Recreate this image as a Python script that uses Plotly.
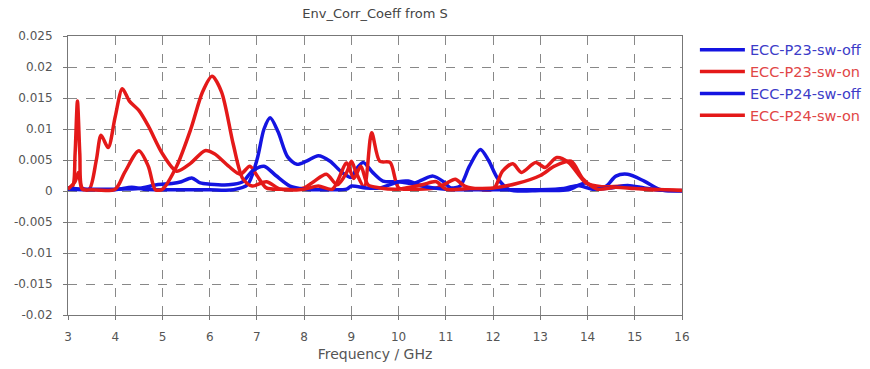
import plotly.graph_objects as go

# ---- data ----
f_p23_off = [3.0, 3.5, 4.0, 4.35, 4.6, 5.0, 5.5, 6.0, 6.5, 6.8, 7.0, 7.15, 7.28, 7.45, 7.65, 7.85, 8.05, 8.3, 8.55, 8.8,
             9.0, 9.1, 9.25, 9.45, 9.67, 10.0, 10.3, 10.5, 10.73, 10.95, 11.1, 11.3, 11.5, 11.73, 11.9, 12.1, 12.35,
             13.0, 13.6, 13.95, 14.2, 14.4, 14.6, 14.85, 15.2, 15.55, 16.0]
v_p23_off = [0.0003, 0.0002, 0.0002, 0.0006, 0.0003, 0.0002, 0.0002, 0.0002, 0.0002, 0.001, 0.005, 0.010, 0.0118,
             0.0095, 0.0055, 0.0043, 0.0048, 0.0057, 0.0048, 0.003, 0.0022, 0.0035, 0.0046, 0.003, 0.0016, 0.0015,
             0.0012, 0.0018, 0.0024, 0.0015, 0.0005, 0.0008, 0.004, 0.0067, 0.005, 0.002, 0.0002, 0.0001, 0.0002,
             0.0013, 0.0003, 0.0008, 0.0024, 0.0027, 0.0016, 0.0002, 0.0001]

f_p23_on = [3.0, 3.1, 3.15, 3.2, 3.25, 3.3, 3.45, 3.6, 3.7, 3.85, 4.0, 4.15, 4.3, 4.5, 4.7, 5.0, 5.3, 5.6, 5.9, 6.1,
            6.4, 6.65, 6.85, 7.0, 7.2, 7.5, 8.0, 8.2, 8.47, 8.7, 8.9, 9.0, 9.1, 9.27, 9.43, 9.6, 9.82, 10.0, 10.3,
            10.8, 11.0, 11.2, 11.4, 12.0, 12.2, 12.42, 12.6, 12.9, 13.1, 13.35, 13.6, 13.97, 14.3, 14.8, 15.2, 16.0]
v_p23_on = [0.0005, 0.0008, 0.006, 0.0145, 0.006, 0.0005, 0.0003, 0.005, 0.009, 0.007, 0.012, 0.0165, 0.0145,
            0.013, 0.0105, 0.006, 0.0032, 0.0045, 0.0065, 0.006, 0.004, 0.0027, 0.004, 0.0025, 0.0005, 0.0003,
            0.0005, 0.0015, 0.0027, 0.001, 0.003, 0.0048, 0.003, 0.0007, 0.0094, 0.0048, 0.0046, 0.0005, 0.0003,
            0.0005, 0.0012, 0.0019, 0.0008, 0.0003, 0.0032, 0.0044, 0.003, 0.0046, 0.0038, 0.0054, 0.0046,
            0.0013, 0.0007, 0.0008, 0.0003, 0.0001]

f_p24_off = [3.0, 3.3, 4.0, 4.5, 4.88, 5.2, 5.4, 5.62, 5.8, 6.0, 6.4, 6.7, 6.9, 7.15, 7.4, 7.7, 8.0, 8.5, 8.9, 9.0,
             9.3, 9.6, 10.0, 10.2, 10.5, 11.0, 11.5, 12.0, 12.5, 13.0, 13.5, 13.8, 14.1, 14.5, 14.85, 15.2, 15.6, 16.0]
v_p24_off = [0.0005, 0.0003, 0.0003, 0.0004, 0.001, 0.0012, 0.0015, 0.0021, 0.0013, 0.0011, 0.001, 0.0015, 0.0032,
             0.004, 0.0025, 0.0008, 0.0003, 0.0002, 0.0003, 0.0008, 0.0005, 0.0005, 0.0015, 0.0016, 0.0008, 0.0003,
             0.0002, 0.0002, 0.0002, 0.0002, 0.0004, 0.0009, 0.0003, 0.0005, 0.0009, 0.0005, 0.0001, 0.0]

f_p24_on = [3.0, 3.15, 3.22, 3.3, 3.5, 4.0, 4.2, 4.5, 4.7, 4.85, 5.0, 5.3, 5.6, 5.85, 6.05, 6.25, 6.5, 6.7, 6.9, 7.2,
            7.5, 8.0, 8.3, 8.6, 8.9, 9.05, 9.2, 9.35, 9.6, 10.0, 10.5, 10.8, 11.0, 11.5, 12.0, 12.5, 13.0, 13.3,
            13.65, 13.9, 14.2, 14.6, 15.0, 16.0]
v_p24_on = [0.0003, 0.0015, 0.003, 0.0003, 0.0002, 0.0003, 0.003, 0.0065, 0.004, 0.0002, 0.0003, 0.004, 0.010,
            0.016, 0.0185, 0.016, 0.0075, 0.002, 0.0008, 0.0015, 0.0003, 0.0003, 0.0008, 0.0003, 0.0045, 0.002,
            0.004, 0.001, 0.0005, 0.0003, 0.001, 0.0015, 0.0003, 0.0004, 0.0005, 0.0012, 0.0025, 0.004, 0.0048,
            0.002, 0.0003, 0.0006, 0.0004, 0.0001]

names = ["ECC-P23-sw-off", "ECC-P23-sw-on", "ECC-P24-sw-off", "ECC-P24-sw-on"]
x_ticks = list(range(3, 17))
y_ticks = [0.025, 0.02, 0.015, 0.01, 0.005, 0, -0.005, -0.01, -0.015, -0.02]
y_labels = ["0.025", "0.02", "0.015", "0.01", "0.005", "0", "-0.005", "-0.01", "-0.015", "-0.02"]

BLUE = "rgb(20,20,225)"
RED = "rgb(228,25,25)"
BLUE_T = "rgb(60,60,200)"
RED_T = "rgb(225,70,70)"

series = [(f_p23_off, v_p23_off, BLUE, BLUE_T),
          (f_p23_on, v_p23_on, RED, RED_T),
          (f_p24_off, v_p24_off, BLUE, BLUE_T),
          (f_p24_on, v_p24_on, RED, RED_T)]

fig = go.Figure()
for i, (xs, ys, col, tcol) in enumerate(series):
    fig.add_trace(go.Scatter(
        x=xs, y=ys, mode="lines",
        line=dict(color=col, width=3.5, shape="spline", smoothing=0.8),
        name=f'<span style="color:{tcol}">{names[i]}</span>',
        legendgroup=f"g{i}",
    ))

font = "DejaVu Sans, Verdana, sans-serif"
fig.update_layout(
    width=870, height=369,
    margin=dict(l=68, r=188, t=36, b=54, autoexpand=False),
    paper_bgcolor="white", plot_bgcolor="white",
    title=dict(text="Env_Corr_Coeff from S", x=375 / 870, xanchor="center", y=1 - 13 / 369, yanchor="middle",
               font=dict(family=font, size=13, color="#444")),
    font=dict(family=font, size=12, color="#555"),
    legend=dict(x=1.021, xanchor="left", y=1.008, yanchor="top", itemwidth=45,
                font=dict(family=font, size=14.5), traceorder="grouped", tracegroupgap=0,
                bgcolor="rgba(0,0,0,0)"),
    showlegend=True,
)
fig.update_xaxes(range=[3, 16], tickvals=x_ticks, ticktext=[str(t) for t in x_ticks],
                 showgrid=True, gridcolor="#888", griddash="dash", gridwidth=1,
                 showline=True, linecolor="#777", linewidth=1, mirror=True,
                 ticks="outside", ticklen=4, tickcolor="#777", zeroline=False, ticklabelstandoff=7,
                 title=dict(text="Frequency / GHz", font=dict(size=14, color="#555"), standoff=5),
                 tickfont=dict(size=12, color="#555"))
fig.update_yaxes(range=[-0.02, 0.025], tickvals=y_ticks, ticktext=y_labels,
                 showgrid=True, gridcolor="#888", griddash="dash", gridwidth=1,
                 showline=True, linecolor="#777", linewidth=1, mirror=True,
                 ticks="outside", ticklen=4, tickcolor="#777", zeroline=False, ticklabelstandoff=8,
                 tickfont=dict(size=12, color="#555"))

fig.write_html("out.html", post_script="document.body.style.margin='0';",
               config={"displayModeBar": False})
